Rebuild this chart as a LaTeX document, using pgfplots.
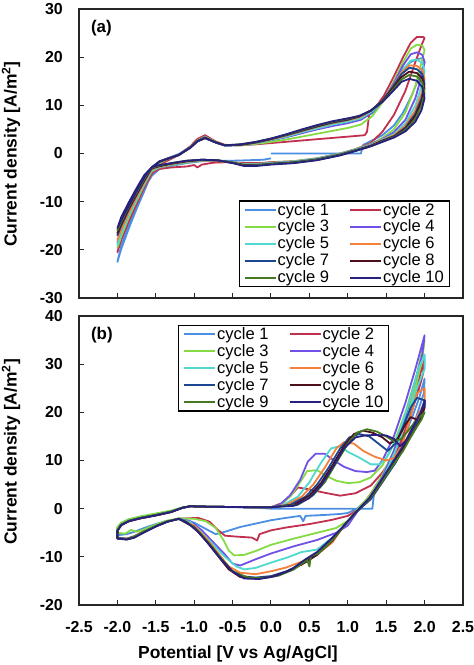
\documentclass[border=0pt]{standalone}
\usepackage{pgfplots}
\pgfplotsset{compat=1.18}
\usepackage{fontspec}
\setmainfont{Liberation Sans}
\definecolor{cA}{HTML}{4A8FE3}
\definecolor{cB}{HTML}{C2304F}
\definecolor{cC}{HTML}{86DB45}
\definecolor{cD}{HTML}{7050E6}
\definecolor{cE}{HTML}{4FD9D0}
\definecolor{cF}{HTML}{F5803C}
\definecolor{cG}{HTML}{1B4690}
\definecolor{cH}{HTML}{4E0F1C}
\definecolor{cI}{HTML}{467A22}
\definecolor{cJ}{HTML}{27207E}
\pgfplotsset{
  cvstyle/.style={
    scale only axis, width=384bp, height=289bp,
    xmin=-2.5, xmax=2.5,
    xtick={-2.5,-2,-1.5,-1,-0.5,0,0.5,1,1.5,2,2.5},
    tick align=inside, major tick length=5bp,
    xtick pos=bottom, ytick pos=left,
    axis line style={line width=1.1bp, black!85},
    every tick/.style={black!85, line width=1bp},
    ticklabel style={font=\bfseries\fontsize{16}{18}\selectfont},
    yticklabel style={anchor=east, inner sep=0pt, xshift=-16bp},
    xticklabel style={anchor=base, inner sep=0pt, yshift=-27bp},
    ylabel style={font=\bfseries\fontsize{17.5}{19}\selectfont, anchor=center},
    xlabel style={font=\bfseries\fontsize{17.5}{19}\selectfont},
    legend columns=2, legend cell align=left,
    legend style={font=\fontsize{16.6}{18}\selectfont, draw=black, line width=1.2bp,
      inner xsep=4.5bp, inner ysep=1bp, row sep=1.5bp,
      nodes={inner sep=1bp},
      /tikz/every even column/.append style={column sep=19bp}},
    legend image code/.code={\draw[#1, line width=2bp] (0bp,0bp) -- (31bp,0bp);},
    every axis plot/.append style={line width=1.8bp, line join=round},
  }
}
\begin{document}
\begin{tikzpicture}
\useasboundingbox (-79bp,-367bp) rectangle (395bp,298bp);
% ---------------- panel (a)
\begin{axis}[cvstyle, at={(0bp,0bp)}, anchor=south west,
  ymin=-30, ymax=30, ytick={-30,-20,-10,0,10,20,30},
  yticklabels={-30,-20,-10,0,10,20,30}, xticklabels={},
  ylabel={Current density [A/m\textsuperscript{2}]},
  ylabel style={at={(rel axis cs:-0.177,0.498)}},
  legend style={at={(rel axis cs:0.966,0.038)}, anchor=south east},
  legend entries={cycle 1,cycle 2,cycle 3,cycle 4,cycle 5,cycle 6,cycle 7,cycle 8,cycle 9,cycle 10}]
\addplot[cA] coordinates {(0.0,0.0) (0.5,0.0) (1.0,0.0) (1.17,0.0) (1.2,1.8) (1.3,2.6) (1.45,3.8) (1.6,5.8) (1.72,8.5) (1.83,12.0) (1.92,15.5) (2.0,19.0) (1.97,19.8) (1.9,19.6) (1.82,19.0) (1.72,17.5) (1.6,14.5) (1.47,11.0) (1.32,8.4) (1.17,7.1) (1.0,6.6) (0.8,6.0) (0.6,5.2) (0.4,4.3) (0.2,3.4) (0.0,2.7) (-0.2,2.1) (-0.4,1.7) (-0.6,1.6) (-0.72,2.3) (-0.86,3.7) (-0.96,2.8) (-1.05,1.4) (-1.2,-0.1) (-1.35,-1.0) (-1.45,-1.8) (-1.55,-4.0) (-1.65,-7.8) (-1.75,-11.5) (-1.85,-15.5) (-1.95,-19.8) (-2.0,-22.5) (-1.95,-19.2) (-1.85,-14.8) (-1.75,-10.8) (-1.65,-7.2) (-1.55,-4.6) (-1.45,-3.2) (-1.3,-2.6) (-1.1,-2.0) (-0.9,-1.6) (-0.7,-1.5) (-0.5,-1.5) (-0.3,-1.4) (-0.1,-1.3) (0.0,-1.0)};
\addplot[cB] coordinates {(0.0,-1.8) (0.3,-1.6) (0.6,-1.0) (0.9,0.0) (1.1,0.9) (1.3,2.2) (1.45,4.5) (1.6,8.0) (1.75,13.0) (1.88,19.0) (1.96,22.5) (2.0,24.0) (1.98,24.2) (1.9,24.2) (1.82,23.0) (1.72,20.0) (1.6,16.0) (1.47,12.0) (1.35,9.3) (1.28,8.3) (1.25,4.5) (1.22,3.8) (1.0,3.5) (0.7,3.1) (0.4,2.7) (0.1,2.3) (-0.2,1.9) (-0.4,1.7) (-0.6,1.8) (-0.72,2.5) (-0.86,3.8) (-0.96,3.0) (-1.05,1.5) (-1.2,-0.3) (-1.35,-1.5) (-1.45,-2.3) (-1.55,-4.2) (-1.65,-7.0) (-1.75,-10.5) (-1.85,-14.0) (-1.95,-18.0) (-2.0,-20.5) (-1.95,-17.5) (-1.85,-13.4) (-1.75,-9.8) (-1.65,-6.4) (-1.55,-4.0) (-1.45,-3.2) (-1.3,-2.9) (-1.1,-2.7) (-1.0,-2.4) (-0.96,-2.9) (-0.9,-2.3) (-0.75,-1.9) (-0.55,-1.8) (-0.35,-2.0) (-0.15,-2.0) (0.0,-1.8)};
\addplot[cC] coordinates {(0.0,-1.9) (0.3,-1.6) (0.6,-1.0) (0.9,0.0) (1.1,0.9) (1.3,2.0) (1.45,3.2) (1.6,5.0) (1.75,8.5) (1.88,14.0) (1.96,19.0) (2.0,21.5) (1.97,22.4) (1.9,22.6) (1.82,21.8) (1.72,19.0) (1.6,15.0) (1.47,11.0) (1.32,7.8) (1.17,6.0) (1.0,5.3) (0.8,4.7) (0.6,4.1) (0.4,3.5) (0.2,2.9) (0.0,2.4) (-0.2,2.0) (-0.4,1.7) (-0.6,1.7) (-0.72,2.4) (-0.86,3.5) (-0.96,2.7) (-1.05,1.3) (-1.2,-0.3) (-1.35,-1.2) (-1.45,-2.0) (-1.55,-3.6) (-1.65,-6.5) (-1.75,-9.8) (-1.85,-13.2) (-1.95,-17.2) (-2.0,-19.5) (-1.95,-16.6) (-1.85,-12.6) (-1.75,-9.2) (-1.65,-6.0) (-1.55,-3.7) (-1.45,-2.9) (-1.3,-2.4) (-1.1,-1.9) (-0.9,-1.5) (-0.7,-1.5) (-0.5,-1.8) (-0.35,-2.2) (-0.2,-2.2) (0.0,-1.9)};
\addplot[cD] coordinates {(0.0,-2.0) (0.3,-1.7) (0.6,-1.1) (0.9,-0.1) (1.1,0.8) (1.3,1.9) (1.45,3.0) (1.6,4.4) (1.75,7.0) (1.88,11.5) (1.96,16.0) (2.0,19.0) (1.97,20.5) (1.9,21.0) (1.82,20.6) (1.72,18.3) (1.6,14.6) (1.47,11.2) (1.32,8.6) (1.17,7.0) (1.0,6.3) (0.8,5.7) (0.6,5.0) (0.4,4.2) (0.2,3.4) (0.0,2.8) (-0.2,2.2) (-0.4,1.8) (-0.6,1.7) (-0.72,2.3) (-0.86,3.4) (-0.96,2.6) (-1.05,1.3) (-1.2,-0.3) (-1.35,-1.1) (-1.45,-1.8) (-1.55,-3.4) (-1.65,-6.2) (-1.75,-9.4) (-1.85,-12.7) (-1.95,-16.3) (-2.0,-18.5) (-1.95,-15.8) (-1.85,-12.1) (-1.75,-8.8) (-1.65,-5.7) (-1.55,-3.5) (-1.45,-2.8) (-1.3,-2.3) (-1.1,-1.8) (-0.9,-1.4) (-0.7,-1.5) (-0.5,-1.9) (-0.35,-2.3) (-0.2,-2.3) (0.0,-2.0)};
\addplot[cE] coordinates {(0.0,-2.0) (0.3,-1.7) (0.6,-1.1) (0.9,-0.1) (1.1,0.8) (1.3,1.8) (1.45,2.9) (1.6,4.0) (1.75,6.3) (1.88,10.0) (1.96,14.0) (2.0,17.0) (1.97,18.8) (1.9,19.5) (1.82,19.3) (1.72,17.4) (1.6,14.2) (1.47,11.2) (1.32,8.8) (1.17,7.3) (1.0,6.6) (0.8,6.0) (0.6,5.2) (0.4,4.4) (0.2,3.5) (0.0,2.8) (-0.2,2.2) (-0.4,1.8) (-0.6,1.7) (-0.72,2.3) (-0.86,3.3) (-0.96,2.6) (-1.05,1.3) (-1.2,-0.3) (-1.35,-1.1) (-1.45,-1.8) (-1.55,-3.4) (-1.65,-6.3) (-1.75,-9.6) (-1.85,-12.9) (-1.95,-16.7) (-2.0,-19.0) (-1.95,-16.2) (-1.85,-12.3) (-1.75,-9.0) (-1.65,-5.8) (-1.55,-3.5) (-1.45,-2.8) (-1.3,-2.3) (-1.1,-1.8) (-0.9,-1.4) (-0.7,-1.5) (-0.5,-1.9) (-0.35,-2.3) (-0.2,-2.3) (0.0,-2.0)};
\addplot[cF] coordinates {(0.0,-2.1) (0.3,-1.8) (0.6,-1.2) (0.9,-0.2) (1.1,0.7) (1.3,1.7) (1.45,2.8) (1.6,3.8) (1.75,5.8) (1.88,9.0) (1.96,12.5) (2.0,15.5) (1.97,17.3) (1.9,18.2) (1.8,18.3) (1.7,16.8) (1.58,13.8) (1.45,11.0) (1.3,8.8) (1.15,7.5) (1.0,6.9) (0.8,6.3) (0.6,5.5) (0.4,4.6) (0.2,3.7) (0.0,2.9) (-0.2,2.3) (-0.4,1.8) (-0.6,1.7) (-0.72,2.3) (-0.86,3.3) (-0.96,2.6) (-1.05,1.3) (-1.2,-0.3) (-1.35,-1.1) (-1.45,-1.7) (-1.55,-3.2) (-1.65,-6.0) (-1.75,-9.1) (-1.85,-12.3) (-1.95,-15.9) (-2.0,-18.0) (-1.95,-15.4) (-1.85,-11.7) (-1.75,-8.5) (-1.65,-5.5) (-1.55,-3.3) (-1.45,-2.7) (-1.3,-2.2) (-1.1,-1.7) (-0.9,-1.4) (-0.7,-1.5) (-0.5,-1.9) (-0.35,-2.4) (-0.2,-2.4) (0.0,-2.1)};
\addplot[cG] coordinates {(0.0,-2.1) (0.3,-1.8) (0.6,-1.2) (0.9,-0.2) (1.1,0.7) (1.3,1.6) (1.45,2.7) (1.6,3.6) (1.75,5.4) (1.88,8.3) (1.96,11.5) (2.0,14.5) (1.97,16.5) (1.9,17.5) (1.8,17.8) (1.7,16.5) (1.58,13.7) (1.45,11.0) (1.3,8.9) (1.15,7.7) (1.0,7.0) (0.8,6.4) (0.6,5.6) (0.4,4.7) (0.2,3.8) (0.0,3.0) (-0.2,2.3) (-0.4,1.8) (-0.6,1.7) (-0.72,2.3) (-0.86,3.3) (-0.96,2.6) (-1.05,1.3) (-1.2,-0.3) (-1.35,-1.1) (-1.45,-1.7) (-1.55,-3.0) (-1.65,-5.7) (-1.75,-8.6) (-1.85,-11.6) (-1.95,-15.0) (-2.0,-17.0) (-1.95,-14.5) (-1.85,-11.0) (-1.75,-8.0) (-1.65,-5.1) (-1.55,-3.1) (-1.45,-2.6) (-1.3,-2.1) (-1.1,-1.6) (-0.9,-1.3) (-0.7,-1.4) (-0.5,-1.9) (-0.35,-2.4) (-0.2,-2.4) (0.0,-2.1)};
\addplot[cH] coordinates {(0.0,-2.2) (0.3,-1.9) (0.6,-1.3) (0.9,-0.3) (1.1,0.6) (1.3,1.6) (1.45,2.6) (1.6,3.5) (1.75,5.1) (1.88,7.8) (1.96,10.8) (2.0,13.5) (1.97,15.6) (1.9,16.7) (1.8,17.0) (1.7,15.9) (1.58,13.4) (1.45,10.9) (1.3,8.9) (1.15,7.7) (1.0,7.1) (0.8,6.5) (0.6,5.7) (0.4,4.8) (0.2,3.9) (0.0,3.0) (-0.2,2.3) (-0.4,1.8) (-0.6,1.7) (-0.72,2.3) (-0.86,3.2) (-0.96,2.5) (-1.05,1.2) (-1.2,-0.3) (-1.35,-1.1) (-1.45,-1.7) (-1.55,-2.9) (-1.65,-5.5) (-1.75,-8.4) (-1.85,-11.3) (-1.95,-14.6) (-2.0,-16.5) (-1.95,-14.1) (-1.85,-10.7) (-1.75,-7.8) (-1.65,-4.9) (-1.55,-3.0) (-1.45,-2.6) (-1.3,-2.1) (-1.1,-1.6) (-0.9,-1.3) (-0.7,-1.4) (-0.5,-1.9) (-0.35,-2.4) (-0.2,-2.5) (0.0,-2.2)};
\addplot[cI] coordinates {(0.0,-2.2) (0.3,-1.9) (0.6,-1.3) (0.9,-0.3) (1.1,0.6) (1.3,1.5) (1.45,2.5) (1.6,3.4) (1.75,4.9) (1.88,7.2) (1.96,10.0) (2.0,12.5) (1.97,14.8) (1.9,16.0) (1.8,16.3) (1.7,15.4) (1.58,13.1) (1.45,10.8) (1.3,8.9) (1.15,7.8) (1.0,7.2) (0.8,6.6) (0.6,5.8) (0.4,4.9) (0.2,3.9) (0.0,3.1) (-0.2,2.4) (-0.4,1.9) (-0.6,1.7) (-0.72,2.3) (-0.86,3.2) (-0.96,2.5) (-1.05,1.2) (-1.2,-0.3) (-1.35,-1.1) (-1.45,-1.6) (-1.55,-2.9) (-1.65,-5.3) (-1.75,-8.1) (-1.85,-11.0) (-1.95,-14.2) (-2.0,-16.0) (-1.95,-13.7) (-1.85,-10.4) (-1.75,-7.5) (-1.65,-4.7) (-1.55,-2.9) (-1.45,-2.5) (-1.3,-2.0) (-1.1,-1.5) (-0.9,-1.3) (-0.7,-1.4) (-0.5,-1.9) (-0.35,-2.5) (-0.2,-2.5) (0.0,-2.2)};
\addplot[cJ] coordinates {(0.0,-2.3) (0.3,-2.0) (0.6,-1.4) (0.9,-0.4) (1.1,0.5) (1.3,1.5) (1.45,2.4) (1.6,3.3) (1.75,4.6) (1.88,6.6) (1.96,9.0) (2.0,11.5) (1.97,13.8) (1.9,15.1) (1.8,15.5) (1.7,14.9) (1.58,12.8) (1.45,10.7) (1.3,8.9) (1.15,7.8) (1.0,7.3) (0.8,6.7) (0.6,5.9) (0.4,5.0) (0.2,4.0) (0.0,3.1) (-0.2,2.4) (-0.4,1.9) (-0.6,1.7) (-0.72,2.3) (-0.86,3.2) (-0.96,2.5) (-1.05,1.2) (-1.2,-0.3) (-1.35,-1.1) (-1.45,-1.6) (-1.55,-2.8) (-1.65,-5.0) (-1.75,-7.8) (-1.85,-10.8) (-1.95,-13.8) (-2.0,-15.5) (-1.95,-13.2) (-1.85,-10.1) (-1.75,-7.2) (-1.65,-4.5) (-1.55,-2.8) (-1.45,-2.4) (-1.3,-2.0) (-1.1,-1.5) (-0.9,-1.3) (-0.7,-1.4) (-0.5,-2.0) (-0.35,-2.6) (-0.2,-2.6) (0.0,-2.3)};
\node[anchor=west, font=\bfseries\fontsize{17}{19}\selectfont, inner sep=0pt] at (rel axis cs:0.031,0.9325) {(a)};
\end{axis}
% ---------------- panel (b)
\begin{axis}[cvstyle, at={(0bp,-307bp)}, anchor=south west,
  ymin=-20, ymax=40, ytick={-20,-10,0,10,20,30,40},
  yticklabels={-20,-10,0,10,20,30,40},
  xticklabels={-2.5,-2.0,-1.5,-1.0,-0.5,0.0,0.5,1.0,1.5,2.0,2.5},
  ylabel={Current density [A/m\textsuperscript{2}]},
  ylabel style={at={(rel axis cs:-0.177,0.53)}},
  xlabel={Potential [V vs Ag/AgCl]},
  xlabel style={at={(rel axis cs:0.414,0)}, anchor=base, yshift=-53bp},
  legend style={at={(rel axis cs:0.258,0.969)}, anchor=north west},
  legend entries={cycle 1,cycle 2,cycle 3,cycle 4,cycle 5,cycle 6,cycle 7,cycle 8,cycle 9,cycle 10}]
\addplot[cA] coordinates {(0.0,0.0) (0.6,0.0) (1.32,0.0) (1.35,4.5) (1.45,6.8) (1.55,9.0) (1.65,12.0) (1.75,15.5) (1.85,19.5) (1.93,23.0) (2.0,27.0) (1.99,24.0) (1.94,21.5) (1.85,17.0) (1.72,12.5) (1.58,8.8) (1.42,5.0) (1.27,2.0) (1.12,0.0) (1.0,-0.9) (0.9,-1.1) (0.7,-1.3) (0.45,-1.5) (0.42,-2.6) (0.38,-1.5) (0.2,-1.9) (0.0,-2.4) (-0.2,-3.1) (-0.4,-3.8) (-0.6,-4.8) (-0.72,-5.3) (-0.85,-4.2) (-1.0,-2.9) (-1.2,-2.2) (-1.35,-2.5) (-1.5,-3.2) (-1.65,-4.0) (-1.78,-4.8) (-1.88,-5.3) (-2.0,-5.5) (-2.0,-4.0) (-1.95,-3.0) (-1.85,-2.2) (-1.7,-1.7) (-1.5,-1.1) (-1.3,-0.5) (-1.15,0.2) (-1.05,0.5) (-0.8,0.4) (-0.5,0.3) (-0.2,0.2) (0.0,0.0)};
\addplot[cB] coordinates {(0.0,0.3) (0.15,1.2) (0.25,2.6) (0.35,4.4) (0.5,4.0) (0.7,3.3) (0.9,2.7) (1.1,3.2) (1.3,4.8) (1.45,7.5) (1.58,10.5) (1.7,14.0) (1.8,19.0) (1.9,25.0) (1.96,29.0) (2.0,31.0) (1.98,28.0) (1.92,24.5) (1.82,19.5) (1.7,14.5) (1.55,9.5) (1.4,5.5) (1.25,2.0) (1.12,-0.3) (1.0,-1.5) (0.8,-2.3) (0.5,-3.2) (0.2,-3.9) (0.0,-4.5) (-0.15,-5.3) (-0.18,-6.6) (-0.25,-6.0) (-0.45,-5.8) (-0.6,-5.6) (-0.7,-4.3) (-0.8,-2.7) (-0.95,-1.9) (-1.2,-2.1) (-1.35,-2.6) (-1.5,-3.5) (-1.65,-4.6) (-1.78,-5.7) (-1.88,-6.2) (-2.0,-6.0) (-2.0,-4.4) (-1.95,-3.3) (-1.85,-2.5) (-1.7,-1.9) (-1.5,-1.3) (-1.3,-0.6) (-1.15,0.2) (-1.05,0.5) (-0.8,0.4) (-0.5,0.35) (-0.2,0.3) (0.0,0.3)};
\addplot[cC] coordinates {(0.0,0.3) (0.12,0.8) (0.25,2.5) (0.38,5.5) (0.47,7.8) (0.6,8.0) (0.72,6.8) (0.85,5.8) (1.0,5.3) (1.15,5.5) (1.3,6.5) (1.45,9.0) (1.6,13.5) (1.75,20.0) (1.9,28.0) (2.0,35.0) (1.97,31.0) (1.88,25.0) (1.75,18.0) (1.6,12.0) (1.45,7.0) (1.3,3.0) (1.15,0.3) (1.0,-2.5) (0.85,-4.0) (0.6,-5.0) (0.3,-6.2) (0.0,-7.5) (-0.2,-8.8) (-0.35,-9.6) (-0.48,-9.7) (-0.55,-8.7) (-0.62,-6.5) (-0.72,-4.0) (-0.85,-2.6) (-1.0,-2.1) (-1.2,-2.0) (-1.35,-2.5) (-1.5,-3.3) (-1.65,-4.3) (-1.75,-4.8) (-1.82,-4.4) (-1.9,-5.2) (-2.0,-5.0) (-2.0,-3.8) (-1.95,-2.9) (-1.85,-2.2) (-1.7,-1.6) (-1.5,-1.0) (-1.3,-0.4) (-1.15,0.3) (-1.05,0.5) (-0.8,0.4) (-0.5,0.35) (-0.2,0.3) (0.0,0.3)};
\addplot[cD] coordinates {(0.0,0.3) (0.12,0.9) (0.25,2.8) (0.38,6.0) (0.48,9.8) (0.58,11.4) (0.7,11.4) (0.82,10.0) (0.95,8.7) (1.1,7.8) (1.25,7.6) (1.35,7.9) (1.45,10.0) (1.6,15.0) (1.75,22.0) (1.88,29.0) (2.0,36.0) (1.97,32.0) (1.87,26.0) (1.75,19.0) (1.6,12.0) (1.45,6.5) (1.3,2.5) (1.15,0.0) (1.0,-3.5) (0.85,-5.0) (0.6,-6.5) (0.3,-7.8) (0.0,-9.3) (-0.2,-10.5) (-0.4,-11.8) (-0.5,-11.4) (-0.6,-9.5) (-0.75,-7.0) (-0.9,-4.5) (-1.05,-2.6) (-1.2,-2.1) (-1.35,-2.7) (-1.5,-3.6) (-1.65,-4.8) (-1.78,-5.9) (-1.88,-6.3) (-2.0,-6.1) (-2.0,-4.6) (-1.95,-3.4) (-1.85,-2.6) (-1.7,-2.0) (-1.5,-1.4) (-1.3,-0.7) (-1.15,0.2) (-1.05,0.5) (-0.8,0.4) (-0.5,0.35) (-0.2,0.3) (0.0,0.3)};
\addplot[cE] coordinates {(0.0,0.3) (0.15,0.7) (0.35,2.5) (0.5,5.5) (0.65,9.5) (0.78,12.5) (0.9,13.0) (1.0,11.8) (1.15,10.6) (1.3,9.2) (1.42,9.2) (1.52,11.0) (1.65,15.0) (1.8,22.0) (1.92,29.0) (2.0,32.0) (2.0,29.0) (1.9,25.0) (1.78,19.0) (1.62,12.0) (1.45,6.0) (1.3,2.5) (1.12,-0.5) (0.95,-3.5) (0.8,-6.0) (0.6,-8.5) (0.4,-9.0) (0.2,-10.2) (0.0,-11.2) (-0.2,-12.3) (-0.35,-12.6) (-0.45,-12.0) (-0.6,-10.0) (-0.75,-7.5) (-0.9,-5.0) (-1.05,-2.8) (-1.2,-2.1) (-1.35,-2.7) (-1.5,-3.6) (-1.65,-4.7) (-1.78,-5.8) (-1.88,-6.3) (-2.0,-6.1) (-2.0,-4.5) (-1.95,-3.3) (-1.85,-2.5) (-1.7,-1.9) (-1.5,-1.3) (-1.3,-0.6) (-1.15,0.2) (-1.05,0.5) (-0.8,0.4) (-0.5,0.35) (-0.2,0.3) (0.0,0.3)};
\addplot[cF] coordinates {(0.0,0.3) (0.2,0.8) (0.4,2.5) (0.55,5.0) (0.7,8.5) (0.85,12.5) (0.95,13.8) (1.08,13.5) (1.2,12.0) (1.35,10.8) (1.5,10.0) (1.6,10.5) (1.7,13.0) (1.8,18.0) (1.9,24.0) (2.0,25.0) (2.0,22.0) (1.9,19.0) (1.78,15.0) (1.62,10.0) (1.45,5.5) (1.3,2.0) (1.12,-0.5) (0.95,-3.5) (0.8,-7.0) (0.6,-9.5) (0.4,-11.0) (0.2,-12.2) (0.0,-13.0) (-0.2,-13.6) (-0.4,-13.3) (-0.55,-12.0) (-0.7,-9.0) (-0.85,-6.0) (-1.0,-3.5) (-1.2,-2.1) (-1.35,-2.7) (-1.5,-3.7) (-1.65,-4.9) (-1.78,-5.9) (-1.88,-6.3) (-2.0,-6.2) (-2.0,-4.6) (-1.95,-3.4) (-1.85,-2.6) (-1.7,-2.0) (-1.5,-1.4) (-1.3,-0.7) (-1.15,0.2) (-1.05,0.5) (-0.8,0.4) (-0.5,0.35) (-0.2,0.3) (0.0,0.3)};
\addplot[cG] coordinates {(0.0,0.3) (0.25,0.8) (0.45,2.5) (0.6,5.0) (0.75,8.5) (0.9,12.5) (1.02,14.8) (1.15,15.5) (1.28,15.0) (1.4,13.5) (1.52,12.0) (1.62,13.5) (1.72,17.0) (1.82,21.0) (1.9,23.0) (2.0,22.5) (2.0,21.0) (1.9,18.0) (1.78,14.0) (1.62,9.5) (1.45,5.5) (1.3,2.0) (1.12,-0.6) (0.95,-3.5) (0.8,-6.5) (0.6,-9.5) (0.4,-11.5) (0.2,-13.0) (0.0,-14.0) (-0.2,-14.3) (-0.4,-14.0) (-0.55,-12.5) (-0.7,-9.5) (-0.85,-6.5) (-1.0,-3.8) (-1.2,-2.1) (-1.35,-2.7) (-1.5,-3.7) (-1.65,-4.8) (-1.78,-5.9) (-1.88,-6.3) (-2.0,-6.1) (-2.0,-4.5) (-1.95,-3.3) (-1.85,-2.5) (-1.7,-1.9) (-1.5,-1.3) (-1.3,-0.6) (-1.15,0.2) (-1.05,0.5) (-0.8,0.4) (-0.5,0.35) (-0.2,0.3) (0.0,0.3)};
\addplot[cH] coordinates {(0.0,0.3) (0.3,0.8) (0.5,2.7) (0.65,5.3) (0.8,9.0) (0.95,13.0) (1.08,15.5) (1.2,16.2) (1.32,15.8) (1.45,14.8) (1.55,13.5) (1.65,14.5) (1.75,17.5) (1.82,19.0) (1.9,18.5) (2.0,21.0) (1.96,19.0) (1.86,16.0) (1.72,12.5) (1.58,9.0) (1.42,5.0) (1.28,2.0) (1.1,-0.8) (0.95,-3.6) (0.8,-6.6) (0.6,-9.6) (0.4,-11.6) (0.2,-13.1) (0.0,-14.2) (-0.2,-14.5) (-0.4,-14.2) (-0.55,-12.6) (-0.7,-9.6) (-0.85,-6.6) (-1.0,-3.9) (-1.2,-2.1) (-1.35,-2.7) (-1.5,-3.6) (-1.65,-4.8) (-1.78,-6.0) (-1.88,-6.4) (-2.0,-6.2) (-2.0,-4.6) (-1.95,-3.4) (-1.85,-2.6) (-1.7,-2.0) (-1.5,-1.4) (-1.3,-0.7) (-1.15,0.2) (-1.05,0.5) (-0.8,0.4) (-0.5,0.35) (-0.2,0.3) (0.0,0.3)};
\addplot[cI] coordinates {(0.0,0.3) (0.35,0.8) (0.55,2.8) (0.7,5.5) (0.85,9.5) (1.0,13.5) (1.12,15.8) (1.25,16.5) (1.38,16.0) (1.5,15.0) (1.6,14.0) (1.7,14.5) (1.8,16.5) (1.9,18.5) (2.0,20.0) (1.96,18.5) (1.86,16.0) (1.72,12.0) (1.58,8.8) (1.42,5.0) (1.28,2.0) (1.1,-0.8) (0.95,-3.6) (0.8,-6.5) (0.62,-9.3) (0.52,-9.8) (0.5,-12.0) (0.47,-10.6) (0.3,-12.6) (0.1,-13.9) (-0.1,-14.4) (-0.3,-14.3) (-0.5,-13.0) (-0.65,-10.3) (-0.8,-7.3) (-0.95,-4.6) (-1.1,-2.7) (-1.2,-2.1) (-1.35,-2.6) (-1.5,-3.6) (-1.65,-4.7) (-1.78,-5.8) (-1.88,-6.3) (-2.0,-6.1) (-2.0,-4.5) (-1.95,-3.3) (-1.85,-2.5) (-1.7,-1.9) (-1.5,-1.3) (-1.3,-0.6) (-1.15,0.2) (-1.05,0.5) (-0.8,0.4) (-0.5,0.35) (-0.2,0.3) (0.0,0.3)};
\addplot[cJ] coordinates {(0.0,0.3) (0.3,0.6) (0.5,2.2) (0.65,4.8) (0.8,8.5) (0.95,12.5) (1.1,14.8) (1.22,15.2) (1.35,15.3) (1.5,15.2) (1.6,14.5) (1.68,13.0) (1.75,14.0) (1.82,16.0) (1.9,18.5) (2.0,21.5) (2.0,22.5) (1.95,20.0) (1.85,17.0) (1.72,13.0) (1.58,9.5) (1.42,5.5) (1.28,2.2) (1.1,-0.8) (0.95,-3.5) (0.8,-6.0) (0.6,-9.0) (0.45,-10.5) (0.25,-12.8) (0.05,-14.0) (-0.15,-14.6) (-0.35,-14.5) (-0.5,-13.0) (-0.65,-10.5) (-0.8,-7.5) (-0.95,-4.8) (-1.1,-2.8) (-1.2,-2.1) (-1.35,-2.7) (-1.5,-3.7) (-1.65,-4.9) (-1.78,-6.0) (-1.88,-6.4) (-2.0,-6.2) (-2.0,-4.6) (-1.95,-3.4) (-1.85,-2.6) (-1.7,-2.0) (-1.5,-1.4) (-1.3,-0.7) (-1.15,0.2) (-1.05,0.5) (-0.8,0.4) (-0.5,0.35) (-0.2,0.3) (0.0,0.3)};
\node[anchor=west, font=\bfseries\fontsize{17}{19}\selectfont, inner sep=0pt] at (rel axis cs:0.031,0.934) {(b)};
\end{axis}
\end{tikzpicture}
\end{document}
